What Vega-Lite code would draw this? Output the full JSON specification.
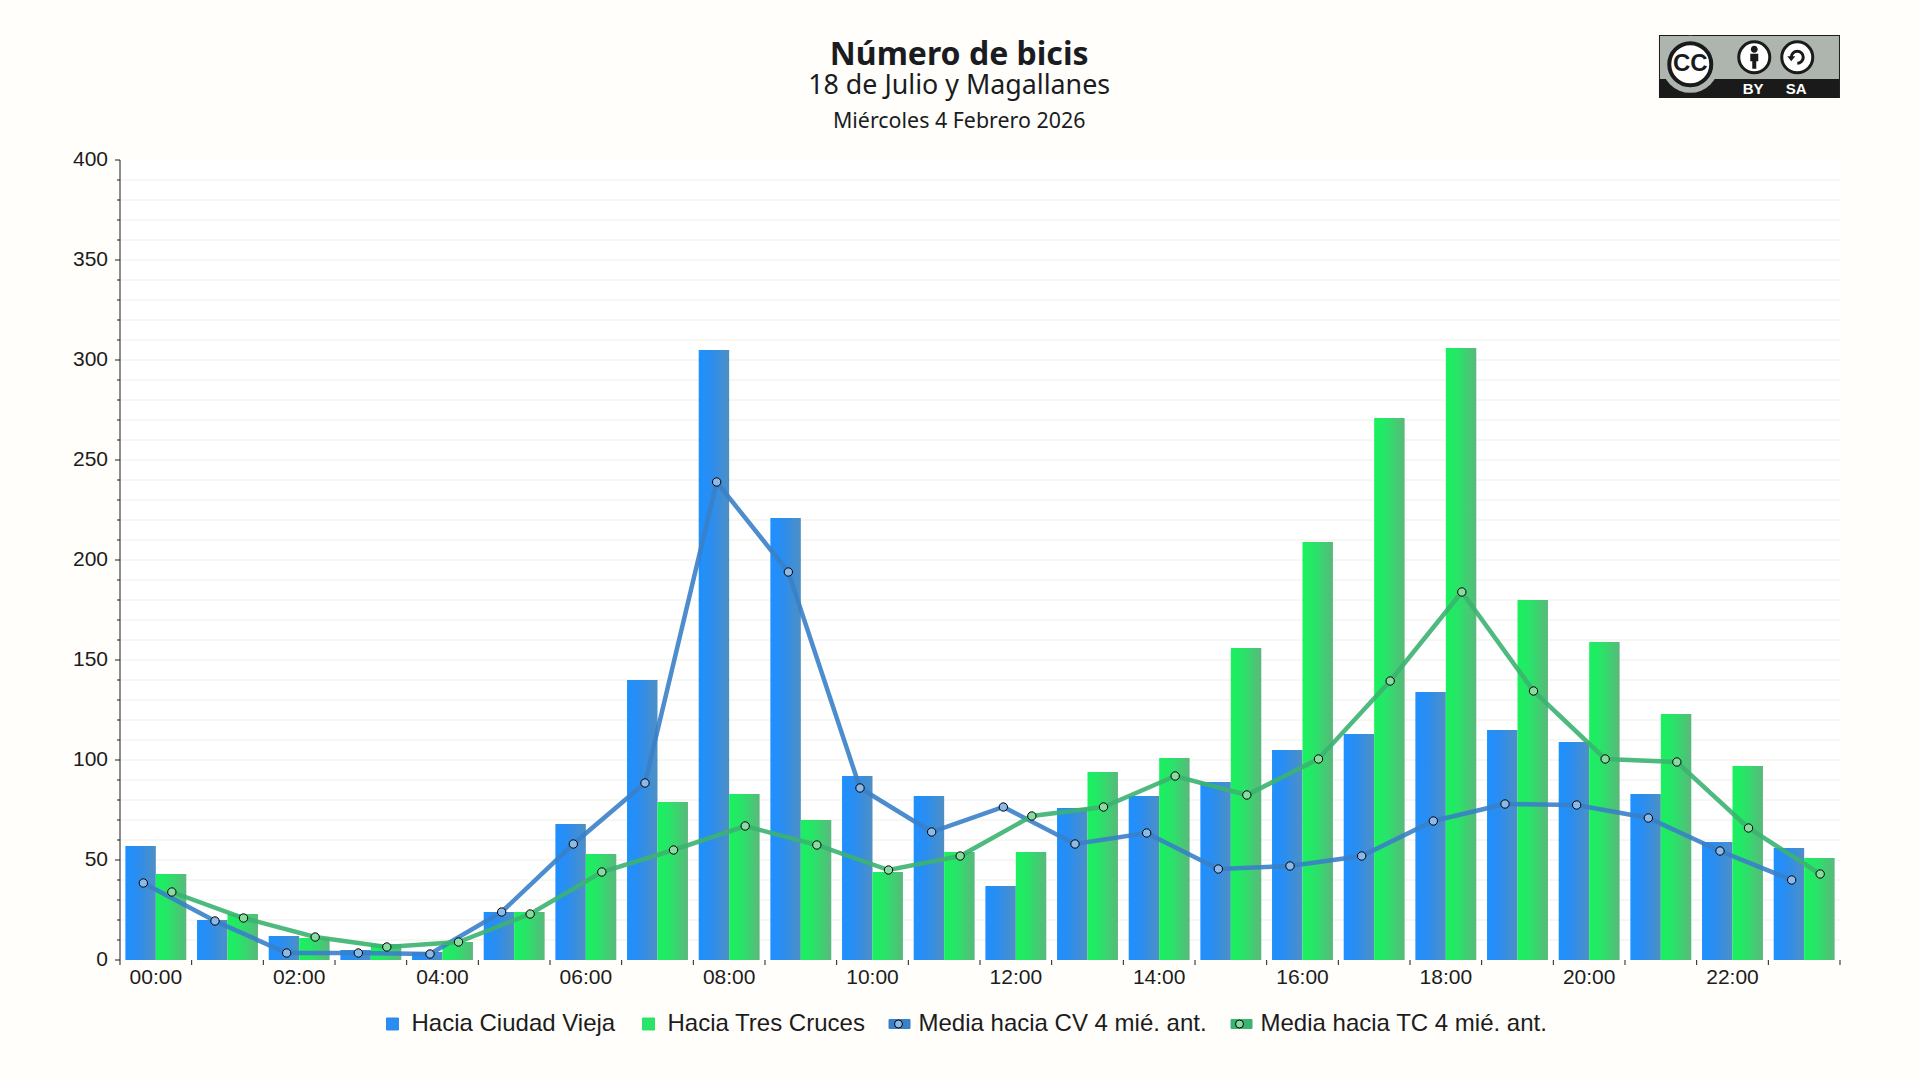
{
  "$schema": "https://vega.github.io/schema/vega-lite/v6.json",
  "width": 1720,
  "height": 800,
  "autosize": "none",
  "padding": {"left": 120, "top": 160, "right": 80, "bottom": 120},
  "background": "#FFFEFB",
  "datasets": {
    "conteos": [
      {"hora": "00:00", "serie": "Hacia Ciudad Vieja", "valor": 57},
      {"hora": "01:00", "serie": "Hacia Ciudad Vieja", "valor": 20},
      {"hora": "02:00", "serie": "Hacia Ciudad Vieja", "valor": 12},
      {"hora": "03:00", "serie": "Hacia Ciudad Vieja", "valor": 5},
      {"hora": "04:00", "serie": "Hacia Ciudad Vieja", "valor": 4},
      {"hora": "05:00", "serie": "Hacia Ciudad Vieja", "valor": 24},
      {"hora": "06:00", "serie": "Hacia Ciudad Vieja", "valor": 68},
      {"hora": "07:00", "serie": "Hacia Ciudad Vieja", "valor": 140},
      {"hora": "08:00", "serie": "Hacia Ciudad Vieja", "valor": 305},
      {"hora": "09:00", "serie": "Hacia Ciudad Vieja", "valor": 221},
      {"hora": "10:00", "serie": "Hacia Ciudad Vieja", "valor": 92},
      {"hora": "11:00", "serie": "Hacia Ciudad Vieja", "valor": 82},
      {"hora": "12:00", "serie": "Hacia Ciudad Vieja", "valor": 37},
      {"hora": "13:00", "serie": "Hacia Ciudad Vieja", "valor": 76},
      {"hora": "14:00", "serie": "Hacia Ciudad Vieja", "valor": 82},
      {"hora": "15:00", "serie": "Hacia Ciudad Vieja", "valor": 89},
      {"hora": "16:00", "serie": "Hacia Ciudad Vieja", "valor": 105},
      {"hora": "17:00", "serie": "Hacia Ciudad Vieja", "valor": 113},
      {"hora": "18:00", "serie": "Hacia Ciudad Vieja", "valor": 134},
      {"hora": "19:00", "serie": "Hacia Ciudad Vieja", "valor": 115},
      {"hora": "20:00", "serie": "Hacia Ciudad Vieja", "valor": 109},
      {"hora": "21:00", "serie": "Hacia Ciudad Vieja", "valor": 83},
      {"hora": "22:00", "serie": "Hacia Ciudad Vieja", "valor": 59},
      {"hora": "23:00", "serie": "Hacia Ciudad Vieja", "valor": 56},
      {"hora": "00:00", "serie": "Hacia Tres Cruces", "valor": 43},
      {"hora": "01:00", "serie": "Hacia Tres Cruces", "valor": 23},
      {"hora": "02:00", "serie": "Hacia Tres Cruces", "valor": 11},
      {"hora": "03:00", "serie": "Hacia Tres Cruces", "valor": 8},
      {"hora": "04:00", "serie": "Hacia Tres Cruces", "valor": 9},
      {"hora": "05:00", "serie": "Hacia Tres Cruces", "valor": 24},
      {"hora": "06:00", "serie": "Hacia Tres Cruces", "valor": 53},
      {"hora": "07:00", "serie": "Hacia Tres Cruces", "valor": 79},
      {"hora": "08:00", "serie": "Hacia Tres Cruces", "valor": 83},
      {"hora": "09:00", "serie": "Hacia Tres Cruces", "valor": 70},
      {"hora": "10:00", "serie": "Hacia Tres Cruces", "valor": 44},
      {"hora": "11:00", "serie": "Hacia Tres Cruces", "valor": 54},
      {"hora": "12:00", "serie": "Hacia Tres Cruces", "valor": 54},
      {"hora": "13:00", "serie": "Hacia Tres Cruces", "valor": 94},
      {"hora": "14:00", "serie": "Hacia Tres Cruces", "valor": 101},
      {"hora": "15:00", "serie": "Hacia Tres Cruces", "valor": 156},
      {"hora": "16:00", "serie": "Hacia Tres Cruces", "valor": 209},
      {"hora": "17:00", "serie": "Hacia Tres Cruces", "valor": 271},
      {"hora": "18:00", "serie": "Hacia Tres Cruces", "valor": 306},
      {"hora": "19:00", "serie": "Hacia Tres Cruces", "valor": 180},
      {"hora": "20:00", "serie": "Hacia Tres Cruces", "valor": 159},
      {"hora": "21:00", "serie": "Hacia Tres Cruces", "valor": 123},
      {"hora": "22:00", "serie": "Hacia Tres Cruces", "valor": 97},
      {"hora": "23:00", "serie": "Hacia Tres Cruces", "valor": 51}
    ],
    "medias": [
      {"hora": "00:00", "serie": "Media hacia CV 4 mié. ant.", "valor": 38.5},
      {"hora": "01:00", "serie": "Media hacia CV 4 mié. ant.", "valor": 19.5},
      {"hora": "02:00", "serie": "Media hacia CV 4 mié. ant.", "valor": 3.5},
      {"hora": "03:00", "serie": "Media hacia CV 4 mié. ant.", "valor": 3.5},
      {"hora": "04:00", "serie": "Media hacia CV 4 mié. ant.", "valor": 3},
      {"hora": "05:00", "serie": "Media hacia CV 4 mié. ant.", "valor": 24},
      {"hora": "06:00", "serie": "Media hacia CV 4 mié. ant.", "valor": 58},
      {"hora": "07:00", "serie": "Media hacia CV 4 mié. ant.", "valor": 88.5},
      {"hora": "08:00", "serie": "Media hacia CV 4 mié. ant.", "valor": 239},
      {"hora": "09:00", "serie": "Media hacia CV 4 mié. ant.", "valor": 194},
      {"hora": "10:00", "serie": "Media hacia CV 4 mié. ant.", "valor": 86},
      {"hora": "11:00", "serie": "Media hacia CV 4 mié. ant.", "valor": 64},
      {"hora": "12:00", "serie": "Media hacia CV 4 mié. ant.", "valor": 76.5},
      {"hora": "13:00", "serie": "Media hacia CV 4 mié. ant.", "valor": 58},
      {"hora": "14:00", "serie": "Media hacia CV 4 mié. ant.", "valor": 63.5},
      {"hora": "15:00", "serie": "Media hacia CV 4 mié. ant.", "valor": 45.5},
      {"hora": "16:00", "serie": "Media hacia CV 4 mié. ant.", "valor": 47},
      {"hora": "17:00", "serie": "Media hacia CV 4 mié. ant.", "valor": 52},
      {"hora": "18:00", "serie": "Media hacia CV 4 mié. ant.", "valor": 69.5},
      {"hora": "19:00", "serie": "Media hacia CV 4 mié. ant.", "valor": 78},
      {"hora": "20:00", "serie": "Media hacia CV 4 mié. ant.", "valor": 77.5},
      {"hora": "21:00", "serie": "Media hacia CV 4 mié. ant.", "valor": 71},
      {"hora": "22:00", "serie": "Media hacia CV 4 mié. ant.", "valor": 54.5},
      {"hora": "23:00", "serie": "Media hacia CV 4 mié. ant.", "valor": 40},
      {"hora": "00:00", "serie": "Media hacia TC 4 mié. ant.", "valor": 34},
      {"hora": "01:00", "serie": "Media hacia TC 4 mié. ant.", "valor": 21},
      {"hora": "02:00", "serie": "Media hacia TC 4 mié. ant.", "valor": 11.5},
      {"hora": "03:00", "serie": "Media hacia TC 4 mié. ant.", "valor": 6.5},
      {"hora": "04:00", "serie": "Media hacia TC 4 mié. ant.", "valor": 9},
      {"hora": "05:00", "serie": "Media hacia TC 4 mié. ant.", "valor": 23},
      {"hora": "06:00", "serie": "Media hacia TC 4 mié. ant.", "valor": 44},
      {"hora": "07:00", "serie": "Media hacia TC 4 mié. ant.", "valor": 55},
      {"hora": "08:00", "serie": "Media hacia TC 4 mié. ant.", "valor": 67},
      {"hora": "09:00", "serie": "Media hacia TC 4 mié. ant.", "valor": 57.5},
      {"hora": "10:00", "serie": "Media hacia TC 4 mié. ant.", "valor": 45},
      {"hora": "11:00", "serie": "Media hacia TC 4 mié. ant.", "valor": 52},
      {"hora": "12:00", "serie": "Media hacia TC 4 mié. ant.", "valor": 72},
      {"hora": "13:00", "serie": "Media hacia TC 4 mié. ant.", "valor": 76.5},
      {"hora": "14:00", "serie": "Media hacia TC 4 mié. ant.", "valor": 92},
      {"hora": "15:00", "serie": "Media hacia TC 4 mié. ant.", "valor": 82.5},
      {"hora": "16:00", "serie": "Media hacia TC 4 mié. ant.", "valor": 100.5},
      {"hora": "17:00", "serie": "Media hacia TC 4 mié. ant.", "valor": 139.5},
      {"hora": "18:00", "serie": "Media hacia TC 4 mié. ant.", "valor": 184},
      {"hora": "19:00", "serie": "Media hacia TC 4 mié. ant.", "valor": 134.5},
      {"hora": "20:00", "serie": "Media hacia TC 4 mié. ant.", "valor": 100.5},
      {"hora": "21:00", "serie": "Media hacia TC 4 mié. ant.", "valor": 99},
      {"hora": "22:00", "serie": "Media hacia TC 4 mié. ant.", "valor": 66},
      {"hora": "23:00", "serie": "Media hacia TC 4 mié. ant.", "valor": 43}
    ],
    "marcas": [
      {"valor": 0}, {"valor": 10}, {"valor": 20}, {"valor": 30}, {"valor": 40}, {"valor": 50}, {"valor": 60}, {"valor": 70}, {"valor": 80}, {"valor": 90},
      {"valor": 100}, {"valor": 110}, {"valor": 120}, {"valor": 130}, {"valor": 140}, {"valor": 150}, {"valor": 160}, {"valor": 170}, {"valor": 180}, {"valor": 190},
      {"valor": 200}, {"valor": 210}, {"valor": 220}, {"valor": 230}, {"valor": 240}, {"valor": 250}, {"valor": 260}, {"valor": 270}, {"valor": 280}, {"valor": 290},
      {"valor": 300}, {"valor": 310}, {"valor": 320}, {"valor": 330}, {"valor": 340}, {"valor": 350}, {"valor": 360}, {"valor": 370}, {"valor": 380}, {"valor": 390}, {"valor": 400}
    ],
    "horas": [
      {"hora": "00:00", "etiqueta": "00:00"}, {"hora": "01:00", "etiqueta": ""}, {"hora": "02:00", "etiqueta": "02:00"}, {"hora": "03:00", "etiqueta": ""},
      {"hora": "04:00", "etiqueta": "04:00"}, {"hora": "05:00", "etiqueta": ""}, {"hora": "06:00", "etiqueta": "06:00"}, {"hora": "07:00", "etiqueta": ""},
      {"hora": "08:00", "etiqueta": "08:00"}, {"hora": "09:00", "etiqueta": ""}, {"hora": "10:00", "etiqueta": "10:00"}, {"hora": "11:00", "etiqueta": ""},
      {"hora": "12:00", "etiqueta": "12:00"}, {"hora": "13:00", "etiqueta": ""}, {"hora": "14:00", "etiqueta": "14:00"}, {"hora": "15:00", "etiqueta": ""},
      {"hora": "16:00", "etiqueta": "16:00"}, {"hora": "17:00", "etiqueta": ""}, {"hora": "18:00", "etiqueta": "18:00"}, {"hora": "19:00", "etiqueta": ""},
      {"hora": "20:00", "etiqueta": "20:00"}, {"hora": "21:00", "etiqueta": ""}, {"hora": "22:00", "etiqueta": "22:00"}, {"hora": "23:00", "etiqueta": ""}
    ],
    "nota": [{"nota": "fecha y licencia"}]
  },
  "layer": [
    {
      "data": {"name": "marcas"},
      "transform": [{"filter": "datum.valor>0 && datum.valor<400"}],
      "mark": {"type": "rule", "color": "#EEEEE6", "strokeWidth": 1},
      "encoding": {
        "y": {"field": "valor", "type": "quantitative", "scale": {"domain": [0, 400], "nice": false}, "axis": null}
      }
    },
    {
      "data": {"name": "conteos"},
      "mark": {"type": "bar"},
      "encoding": {
        "x": {
          "field": "hora",
          "type": "nominal",
          "scale": {"paddingInner": 0.15, "paddingOuter": 0.075},
          "axis": null
        },
        "xOffset": {"field": "serie", "type": "nominal", "scale": {"paddingInner": 0}},
        "y": {
          "field": "valor",
          "type": "quantitative",
          "scale": {"domain": [0, 400], "nice": false},
          "axis": null
        },
        "color": {
          "condition": {
            "test": "datum.serie=='Hacia Ciudad Vieja'",
            "value": {"gradient": "linear", "x1": 0, "y1": 0, "x2": 1, "y2": 0, "stops": [{"offset": 0, "color": "#1E90FF"}, {"offset": 0.4, "color": "#2A8DF0"}, {"offset": 1, "color": "#4F8FC4"}]}
          },
          "value": {"gradient": "linear", "x1": 0, "y1": 0, "x2": 1, "y2": 0, "stops": [{"offset": 0, "color": "#18F25E"}, {"offset": 0.4, "color": "#28E468"}, {"offset": 1, "color": "#5AB87C"}]}
        }
      }
    },
    {
      "data": {"name": "medias"},
      "transform": [{"filter": "datum.serie=='Media hacia CV 4 mié. ant.'"}],
      "mark": {"type": "line", "strokeWidth": 4.5, "xOffset": -12.5, "opacity": 0.9},
      "encoding": {
        "x": {"field": "hora", "type": "nominal", "axis": null},
        "y": {"field": "valor", "type": "quantitative", "axis": null},
        "stroke": {
          "field": "serie",
          "type": "nominal",
          "scale": {
            "domain": ["Hacia Ciudad Vieja", "Hacia Tres Cruces", "Media hacia CV 4 mié. ant.", "Media hacia TC 4 mié. ant."],
            "range": ["#2A8DF0", "#28E468", "#3A80C8", "#3CB371"]
          },
          "legend": {
            "title": null,
            "orient": "none",
            "legendX": 260.5,
            "legendY": 852,
            "direction": "horizontal",
            "columns": 4,
            "padding": 0,
            "gridAlign": "each",
            "columnPadding": 21,
            "rowPadding": 0,
            "symbolSize": 441,
            "labelOffset": 7,
            "labelLimit": 500,
            "labelFont": "Liberation Sans",
            "labelFontSize": 24,
            "labelColor": "#1C1C1C",
            "encoding": {
              "symbols": {
                "shape": {"condition": {"test": "indexof(datum.value,'Media')==0", "value": "M-1,-.43H1V.43H-1Z"}, "value": "M-.57,-.57H.57V.57H-.57Z"},
                "fill": {"value": {"expr": "indexof(datum.value,'Media')==0 ? (indexof(datum.value,'CV')>0 ? '#3A80C8' : '#3CB371') : (indexof(datum.value,'Vieja')>0 ? '#2A8DF0' : '#28E468')"}},
                "stroke": {"condition": {"test": "indexof(datum.value,'Media')==0", "value": "transparent"}, "value": "#000000"},
                "strokeWidth": {"value": 1},
                "opacity": {"value": 1}
              }
            }
          }
        }
      }
    },
    {
      "data": {"name": "medias"},
      "transform": [{"filter": "datum.serie=='Media hacia TC 4 mié. ant.'"}],
      "mark": {"type": "line", "strokeWidth": 4.5, "xOffset": 16, "opacity": 0.9},
      "encoding": {
        "x": {"field": "hora", "type": "nominal", "axis": null},
        "y": {"field": "valor", "type": "quantitative", "axis": null},
        "stroke": {"field": "serie", "type": "nominal", "legend": null}
      }
    },
    {
      "data": {"name": "medias"},
      "transform": [{"filter": "datum.serie=='Media hacia CV 4 mié. ant.'"}],
      "mark": {"type": "point", "filled": true, "shape": "circle", "size": 70, "stroke": "#000000", "strokeWidth": 1, "opacity": 1, "xOffset": -12.5},
      "encoding": {
        "x": {"field": "hora", "type": "nominal", "axis": null},
        "y": {"field": "valor", "type": "quantitative", "axis": null},
        "fill": {
          "field": "serie",
          "type": "nominal",
          "scale": {
            "domain": ["Media hacia TC 4 mié. ant.", "Media hacia CV 4 mié. ant.", "Hacia Tres Cruces", "Hacia Ciudad Vieja"],
            "range": ["#8ADBA2", "#8DB9E8", "#28E468", "#2A8DF0"]
          },
          "legend": {
            "title": null,
            "orient": "none",
            "legendX": 260.5,
            "legendY": 852,
            "direction": "horizontal",
            "columns": 4,
            "padding": 0,
            "gridAlign": "each",
            "columnPadding": 21,
            "rowPadding": 0,
            "symbolSize": 441,
            "labelOffset": 7,
            "labelLimit": 500,
            "labelFont": "Liberation Sans",
            "labelFontSize": 24,
            "labelColor": "transparent",
            "values": ["Hacia Ciudad Vieja", "Hacia Tres Cruces", "Media hacia CV 4 mié. ant.", "Media hacia TC 4 mié. ant."],
            "encoding": {
              "symbols": {
                "shape": {"value": "circle"},
                "size": {"value": 64},
                "fill": {"value": {"expr": "indexof(datum.value,'CV')>0 ? '#8DB9E8' : '#8ADBA2'"}},
                "stroke": {"value": "#000000"},
                "strokeWidth": {"value": 1},
                "opacity": {"condition": {"test": "indexof(datum.value,'Media')==0", "value": 1}, "value": 0}
              }
            }
          }
        }
      }
    },
    {
      "data": {"name": "medias"},
      "transform": [{"filter": "datum.serie=='Media hacia TC 4 mié. ant.'"}],
      "mark": {"type": "point", "filled": true, "shape": "circle", "size": 70, "stroke": "#000000", "strokeWidth": 1, "opacity": 1, "xOffset": 16},
      "encoding": {
        "x": {"field": "hora", "type": "nominal", "axis": null},
        "y": {"field": "valor", "type": "quantitative", "axis": null},
        "fill": {"field": "serie", "type": "nominal", "legend": null}
      }
    },
    {
      "data": {"name": "nota"},
      "mark": {"type": "rule", "color": "#1C1C1C", "strokeWidth": 1, "xOffset": -35.83},
      "encoding": {
        "x": {"datum": "00:00", "type": "nominal", "axis": null}
      }
    },
    {
      "data": {"name": "marcas"},
      "transform": [{"filter": "datum.valor%50==0"}],
      "mark": {"type": "point", "filled": false, "shape": "M-1,0H0", "size": 100, "stroke": "#1C1C1C", "strokeWidth": 1, "opacity": 1, "xOffset": -35.83},
      "encoding": {
        "x": {"datum": "00:00", "type": "nominal", "axis": null},
        "y": {"field": "valor", "type": "quantitative", "axis": null}
      }
    },
    {
      "data": {"name": "marcas"},
      "transform": [{"filter": "datum.valor%50!=0"}],
      "mark": {"type": "point", "filled": false, "shape": "M-1,0H0", "size": 36, "stroke": "#1C1C1C", "strokeWidth": 1, "opacity": 1, "xOffset": -35.83},
      "encoding": {
        "x": {"datum": "00:00", "type": "nominal", "axis": null},
        "y": {"field": "valor", "type": "quantitative", "axis": null}
      }
    },
    {
      "data": {"name": "marcas"},
      "transform": [{"filter": "datum.valor%50==0"}],
      "mark": {"type": "text", "font": "Liberation Sans", "fontSize": 21, "color": "#1C1C1C", "align": "right", "baseline": "middle", "xOffset": -47.83},
      "encoding": {
        "x": {"datum": "00:00", "type": "nominal", "axis": null},
        "y": {"field": "valor", "type": "quantitative", "axis": null},
        "text": {"field": "valor", "type": "quantitative"}
      }
    },
    {
      "data": {"name": "horas"},
      "mark": {"type": "point", "filled": false, "shape": "M0,0V1", "size": 100, "stroke": "#1C1C1C", "strokeWidth": 1, "opacity": 1, "xOffset": -35.83},
      "encoding": {
        "x": {"field": "hora", "type": "nominal", "axis": null},
        "y": {"datum": 0, "type": "quantitative", "axis": null}
      }
    },
    {
      "data": {"name": "nota"},
      "mark": {"type": "point", "filled": false, "shape": "M0,0V1", "size": 100, "stroke": "#1C1C1C", "strokeWidth": 1, "opacity": 1, "xOffset": 35.83},
      "encoding": {
        "x": {"datum": "23:00", "type": "nominal", "axis": null},
        "y": {"datum": 0, "type": "quantitative", "axis": null}
      }
    },
    {
      "data": {"name": "horas"},
      "mark": {"type": "text", "font": "Liberation Sans", "fontSize": 21, "color": "#1C1C1C", "baseline": "middle", "dy": 18},
      "encoding": {
        "x": {"field": "hora", "type": "nominal", "axis": null},
        "y": {"datum": 0, "type": "quantitative", "axis": null},
        "text": {"field": "etiqueta", "type": "nominal"}
      }
    },
    {
      "data": {"name": "nota"},
      "mark": {"type": "text", "text": "Número de bicis", "font": "Noto Sans", "fontSize": 32, "fontWeight": "bold", "color": "#1A1C22", "baseline": "alphabetic", "xOffset": 15},
      "encoding": {
        "x": {"datum": "11:00", "type": "nominal", "axis": null},
        "y": {"datum": 447.5, "type": "quantitative", "axis": null}
      }
    },
    {
      "data": {"name": "nota"},
      "mark": {"type": "text", "text": "18 de Julio y Magallanes", "font": "Noto Sans", "fontSize": 26.8, "color": "#1A1C22", "baseline": "alphabetic", "xOffset": 15},
      "encoding": {
        "x": {"datum": "11:00", "type": "nominal", "axis": null},
        "y": {"datum": 433, "type": "quantitative", "axis": null}
      }
    },
    {
      "data": {"name": "nota"},
      "mark": {"type": "text", "text": "Miércoles 4 Febrero 2026", "font": "Noto Sans", "fontSize": 21.4, "color": "#1A1C22", "baseline": "alphabetic", "xOffset": 15},
      "encoding": {
        "x": {"datum": "11:00", "type": "nominal", "axis": null},
        "y": {"datum": 416, "type": "quantitative", "axis": null}
      }
    },
    {
      "data": {"name": "nota"},
      "mark": {"type": "bar", "width": 181, "color": "#1A1A1A", "xOffset": -54.7},
      "encoding": {
        "x": {"datum": "23:00", "type": "nominal", "axis": null},
        "y": {"datum": 431, "type": "quantitative", "axis": null},
        "y2": {"datum": 462.5}
      }
    },
    {
      "data": {"name": "nota"},
      "mark": {"type": "bar", "width": 179, "color": "#AEB5AE", "xOffset": -54.7},
      "encoding": {
        "x": {"datum": "23:00", "type": "nominal", "axis": null},
        "y": {"datum": 440.5, "type": "quantitative", "axis": null},
        "y2": {"datum": 462}
      }
    },
    {
      "data": {"name": "nota"},
      "mark": {"type": "point", "filled": true, "shape": "circle", "size": 3249, "color": "#AEB5AE", "opacity": 1, "xOffset": -113.9},
      "encoding": {
        "x": {"datum": "23:00", "type": "nominal", "axis": null},
        "y": {"datum": 447.85, "type": "quantitative", "axis": null}
      }
    },
    {
      "data": {"name": "nota"},
      "mark": {"type": "point", "filled": true, "shape": "circle", "size": 1764, "fill": "#FFFFFF", "stroke": "#1A1A1A", "strokeWidth": 4, "opacity": 1, "xOffset": -113.9},
      "encoding": {
        "x": {"datum": "23:00", "type": "nominal", "axis": null},
        "y": {"datum": 447.85, "type": "quantitative", "axis": null}
      }
    },
    {
      "data": {"name": "nota"},
      "mark": {"type": "text", "text": "CC", "font": "Liberation Sans", "fontWeight": "bold", "fontSize": 24, "color": "#1A1A1A", "xOffset": -113.9},
      "encoding": {
        "x": {"datum": "23:00", "type": "nominal", "axis": null},
        "y": {"datum": 447.85, "type": "quantitative", "axis": null}
      }
    },
    {
      "data": {"name": "nota"},
      "mark": {"type": "point", "filled": true, "shape": "circle", "size": 961, "fill": "#FFFFFF", "stroke": "#1A1A1A", "strokeWidth": 3, "opacity": 1, "xOffset": -49.9},
      "encoding": {
        "x": {"datum": "23:00", "type": "nominal", "axis": null},
        "y": {"datum": 451.35, "type": "quantitative", "axis": null}
      }
    },
    {
      "data": {"name": "nota"},
      "mark": {"type": "point", "filled": true, "shape": "M0,-1.15A.35,.35 0 1 1 0,-.45A.35,.35 0 1 1 0,-1.15ZM-.4,-.35H.4V.4H.2V1.15H-.2V.4H-.4Z", "size": 400, "color": "#1A1A1A", "opacity": 1, "xOffset": -49.9},
      "encoding": {
        "x": {"datum": "23:00", "type": "nominal", "axis": null},
        "y": {"datum": 451.35, "type": "quantitative", "axis": null}
      }
    },
    {
      "data": {"name": "nota"},
      "mark": {"type": "point", "filled": true, "shape": "circle", "size": 961, "fill": "#FFFFFF", "stroke": "#1A1A1A", "strokeWidth": 3, "opacity": 1, "xOffset": -6.9},
      "encoding": {
        "x": {"datum": "23:00", "type": "nominal", "axis": null},
        "y": {"datum": 451.35, "type": "quantitative", "axis": null}
      }
    },
    {
      "data": {"name": "nota"},
      "mark": {"type": "point", "filled": false, "shape": "M-.6,0A.6,.6 0 1 1 0,.6", "size": 400, "stroke": "#1A1A1A", "strokeWidth": 3, "opacity": 1, "xOffset": -6.9},
      "encoding": {
        "x": {"datum": "23:00", "type": "nominal", "axis": null},
        "y": {"datum": 451.35, "type": "quantitative", "axis": null}
      }
    },
    {
      "data": {"name": "nota"},
      "mark": {"type": "point", "filled": true, "shape": "M-1,-.1H-.2L-.6,.4Z", "size": 400, "color": "#1A1A1A", "opacity": 1, "xOffset": -6.9},
      "encoding": {
        "x": {"datum": "23:00", "type": "nominal", "axis": null},
        "y": {"datum": 451.35, "type": "quantitative", "axis": null}
      }
    },
    {
      "data": {"name": "nota"},
      "mark": {"type": "text", "text": "BY", "font": "Liberation Sans", "fontWeight": "bold", "fontSize": 15, "color": "#FFFFFF", "xOffset": -51},
      "encoding": {
        "x": {"datum": "23:00", "type": "nominal", "axis": null},
        "y": {"datum": 435.75, "type": "quantitative", "axis": null}
      }
    },
    {
      "data": {"name": "nota"},
      "mark": {"type": "text", "text": "SA", "font": "Liberation Sans", "fontWeight": "bold", "fontSize": 15, "color": "#FFFFFF", "xOffset": -8},
      "encoding": {
        "x": {"datum": "23:00", "type": "nominal", "axis": null},
        "y": {"datum": 435.75, "type": "quantitative", "axis": null}
      }
    }
  ],
  "config": {
    "view": {"fill": "#FFFFFF", "stroke": null}
  }
}
